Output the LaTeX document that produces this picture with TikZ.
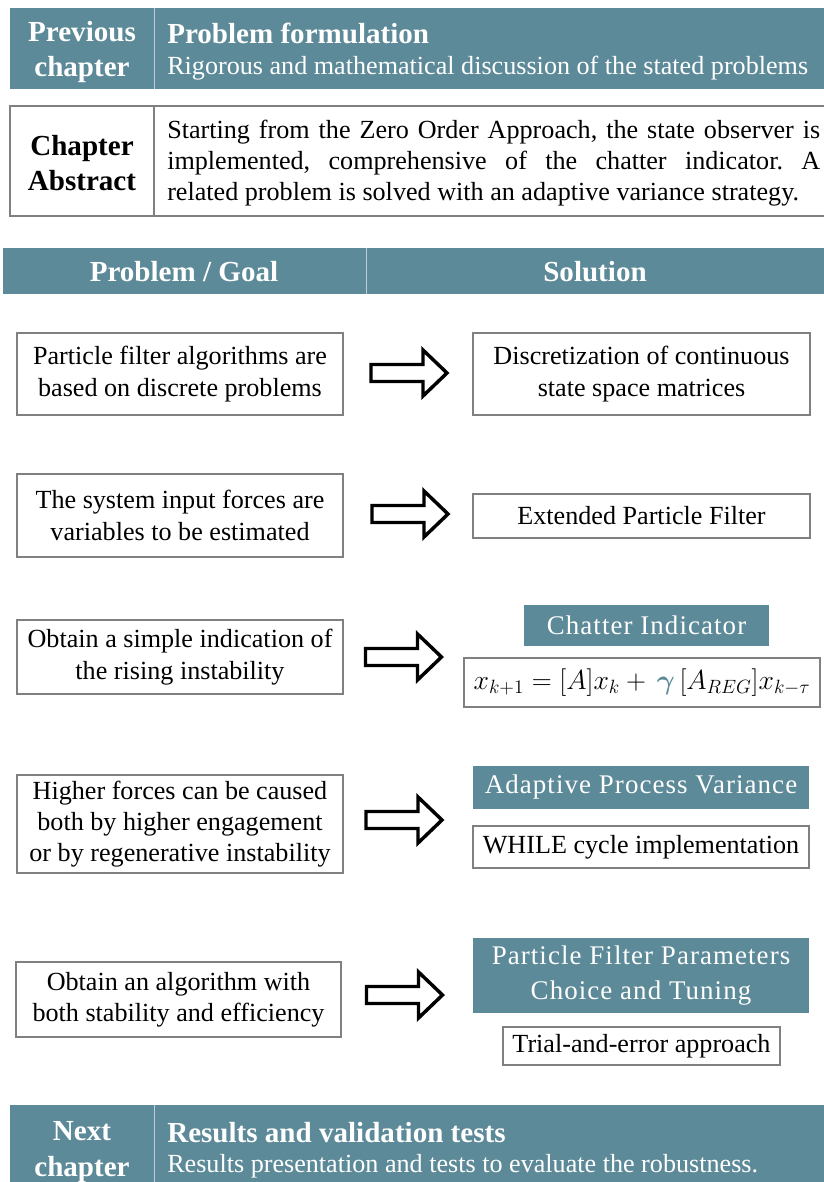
\documentclass[tikz,border=0pt]{standalone}
\usepackage{amsmath,bm}
\usepackage{fontspec}
\setmainfont{Liberation Serif}
\usetikzlibrary{positioning,calc}
\definecolor{myteal}{RGB}{93,138,152}
\definecolor{mygray}{RGB}{128,128,128}
\newcommand{\pw}[1]{#1*0.75pt}

\tikzset{
  band/.style={fill=myteal},
  bandtxt/.style={text=white, inner sep=0pt, align=center, font=\bfseries\fontsize{21.8}{26.5}\selectfont},
  subtxt/.style={text=white, inner sep=0pt, font=\fontsize{19.6}{23}\selectfont},
  goalbox/.style={draw=mygray, line width=0.8pt, fill=white, align=center, inner sep=0pt, font=\fontsize{19.6}{23.5}\selectfont},
  tealbox/.style={fill=myteal, text=white, align=center, inner sep=0pt, font=\fontsize{20.2}{26}\selectfont\addfontfeature{LetterSpace=4}},
  blockarr/.pic={
    \draw[line width=2.6pt, fill=white, line join=miter]
      (-38,-8.5) -- (14,-8.5) -- (14,-23) -- (38,0) -- (14,23) -- (14,8.5) -- (-38,8.5) -- cycle;
  }
}

\begin{document}
\begin{tikzpicture}[x=0.75pt, y=-0.75pt]
  \useasboundingbox (0,0) rectangle (824,1182);

  % Previous chapter
  \fill[band] (10,8) rectangle (824,89);
  \draw[white!60!myteal, line width=0.6pt] (154,8) -- (154,89);
  \node[bandtxt] (prevlbl) at (82,52) {Previous\\chapter};
  \node[bandtxt, anchor=base west] (prevtitle) at (167,43) {Problem formulation};
  \node[subtxt, anchor=base west] (prevsub) at (167,74) {Rigorous and mathematical discussion of the stated problems};

  % Abstract
  \draw[mygray, line width=0.8pt] (10,106) rectangle (830,216);
  \draw[mygray, line width=0.8pt] (154,106) -- (154,216);
  \node[bandtxt, text=black] (abslbl) at (82,163) {Chapter\\Abstract};
  \node[anchor=west, inner sep=0pt, text width=\pw{653}, align=justify,
        font=\fontsize{19.6}{23.5}\selectfont] (abstxt) at (167,163)
    {\frenchspacing Starting from the Zero Order Approach, the state observer is\linebreak
     implemented, comprehensive of the chatter indicator. A\linebreak
     related problem is solved with an adaptive variance strategy.};

  % Table header
  \fill[band] (3,248) rectangle (824,294);
  \draw[white!60!myteal, line width=0.5pt] (366,248) -- (366,294);
  \node[bandtxt] (goalhdr) at (184,272) {Problem / Goal};
  \node[bandtxt] (solhdr) at (595,272) {Solution};

  % Row 1
  \node[goalbox, minimum width=\pw{326}, minimum height=\pw{82}] (goal1) at (180,374)
    {Particle filter algorithms are\\based on discrete problems};
  \node[goalbox, minimum width=\pw{337}, minimum height=\pw{82}] (sol1) at (641.5,374)
    {Discretization of continuous\\state space matrices};
  \pic at (409,373) {blockarr};

  % Row 2
  \node[goalbox, minimum width=\pw{326}, minimum height=\pw{83}] (goal2) at (180,515.5)
    {The system input forces are\\variables to be estimated};
  \node[goalbox, minimum width=\pw{337}, minimum height=\pw{44}] (sol2) at (641.5,516)
    {Extended Particle Filter};
  \pic at (410,514) {blockarr};

  % Row 3
  \node[goalbox, minimum width=\pw{326}, minimum height=\pw{74}] (goal3) at (180,657)
    {Obtain a simple indication of\\the rising instability};
  \node[tealbox, minimum width=\pw{245}, minimum height=\pw{41}] (chat) at (646.5,625.5)
    {Chatter Indicator};
  \node[goalbox, minimum width=\pw{356}, minimum height=\pw{49}, font=\fontsize{22}{26}\selectfont] (chatform) at (642,682.5)
    {$x_{k+1} = [A]x_k + \,{\color{myteal}\bm{\gamma}}\,[A_{REG}]x_{k-\tau}$};
  \pic at (403.5,657) {blockarr};

  % Row 4
  \node[goalbox, minimum width=\pw{326}, minimum height=\pw{98}] (goal4) at (180,824)
    {Higher forces can be caused\\both by higher engagement\\or by regenerative instability};
  \node[tealbox, minimum width=\pw{336}, minimum height=\pw{43}] (adapt) at (641,787.5)
    {Adaptive Process Variance};
  \node[goalbox, minimum width=\pw{336}, minimum height=\pw{42}] (whilecyc) at (641,847)
    {WHILE cycle implementation};
  \pic at (404,820) {blockarr};

  % Row 5
  \node[goalbox, minimum width=\pw{325}, minimum height=\pw{75}] (goal5) at (178.5,999.5)
    {Obtain an algorithm with\\both stability and efficiency};
  \node[tealbox, minimum width=\pw{336}, minimum height=\pw{75}] (pfparam) at (641,975.5)
    {Particle Filter Parameters\\Choice and Tuning};
  \node[goalbox, minimum width=\pw{277}, minimum height=\pw{38}] (trial) at (641.5,1046)
    {Trial-and-error approach};
  \pic at (404.5,995) {blockarr};

  % Next chapter
  \fill[band] (10,1105) rectangle (824,1190);
  \draw[white!60!myteal, line width=0.6pt] (154,1105) -- (154,1190);
  \node[bandtxt] (nextlbl) at (82,1152) {Next\\chapter};
  \node[bandtxt, anchor=base west] (nexttitle) at (167,1142) {Results and validation tests};
  \node[subtxt, anchor=base west] (nextsub) at (167,1172) {Results presentation and tests to evaluate the robustness.};
\end{tikzpicture}
\end{document}
